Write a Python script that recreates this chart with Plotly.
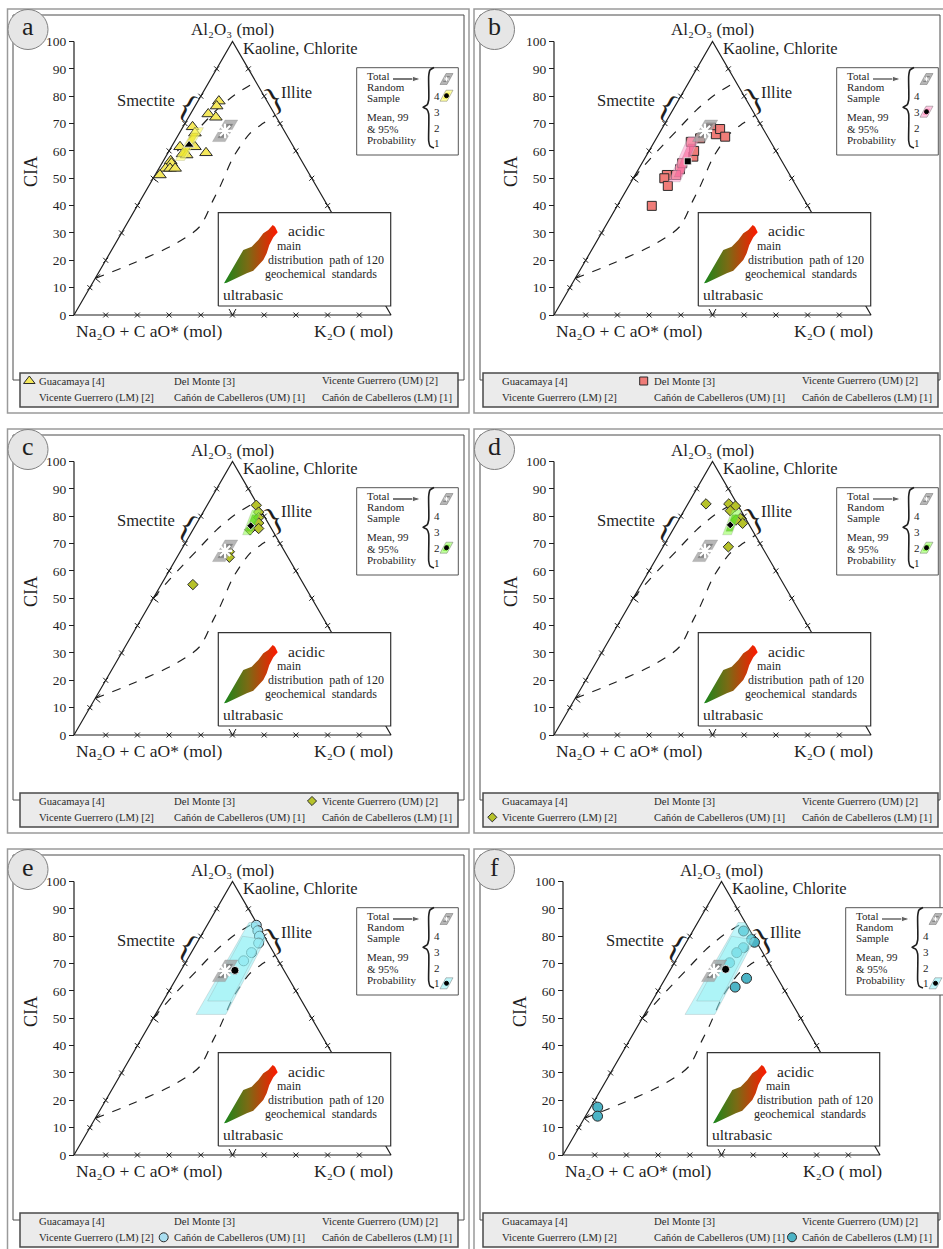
import plotly.graph_objects as go

W, H = 943, 1249
SERIF = "Liberation Serif"
INK = "#1f1f1f"

# ================= DATA  (each sample: K2O mol %, CIA) =================
guacamaya_k2o = [6.6, 6.8, 5.6, 8.6, 3.0, 4.9, 2.7, 7.4, 12.0, 4.8, 6.3, 2.3, 3.0, 2.1, 3.5, 5.1, 1.5]
guacamaya_cia = [78.2, 76.4, 73.5, 72.3, 68.8, 66.5, 61.5, 61.5, 59.3, 58.9, 58.5, 56.4, 55.5, 53.6, 53.6, 53.6, 51.2]
guacamaya_mean = [5.2, 62.2]

delmonte_k2o = [15.3, 18.0, 18.4, 21.4, 13.8, 11.5, 15.0, 13.1, 10.0, 9.8, 12.9, 12.3, 10.9, 14.2, 12.7]
delmonte_cia = [68.5, 66.1, 68.0, 65.2, 64.6, 63.3, 57.9, 53.3, 51.2, 50.0, 51.2, 47.2, 39.9, 60.0, 55.5]
delmonte_mean = [14.1, 56.2]

vg_um_k2o = [15.5, 17.5, 18.5, 19.5, 20.5, 18.0, 15.5, 16.5, 10.0]
vg_um_cia = [84.0, 81.5, 79.5, 77.5, 75.5, 75.0, 67.0, 65.0, 55.0]
vg_um_mean = [17.5, 76.5]

vg_lm_k2o = [5.7, 12.9, 15.4, 14.6, 19.2, 20.8, 18.1, 20.6]
vg_lm_cia = [84.5, 84.5, 83.7, 82.0, 79.2, 77.4, 78.6, 68.8]
vg_lm_mean = [17.2, 76.8]

cc_um_k2o = [15.5, 17.0, 18.5, 19.5, 19.0, 18.0]
cc_um_cia = [84.0, 82.0, 80.0, 77.5, 74.0, 71.0]
cc_um_mean = [17.0, 67.5]

cc_lm_k2o = [16.0, 20.1, 21.5, 19.0, 17.8, 17.4, 25.6, 23.6, 2.2, 3.8]
cc_lm_cia = [81.9, 78.8, 77.8, 75.8, 74.0, 70.3, 64.6, 61.4, 17.5, 14.2]
cc_lm_mean = [17.35, 67.9]

# 99 % / 95 % probability regions (polygon corners, K2O mol %, CIA)
total_p99_k = [12.0, 16.0, 16.0, 12.0];  total_p99_cia = [63.4, 63.4, 71.3, 71.3]
total_p95_k = [13.0, 15.2, 15.2, 13.0];  total_p95_cia = [64.8, 64.8, 69.8, 69.8]
total_mean = [14.0, 67.3]

guacamaya_p99_k = [3.7, 6.6, 6.6, 3.7];  guacamaya_p99_cia = [56.5, 56.5, 68.5, 68.5]
guacamaya_p95_k = [4.0, 6.0, 6.0, 4.0];  guacamaya_p95_cia = [58.0, 58.0, 66.5, 66.5]
delmonte_p99_k = [11.7, 15.4, 13.5, 9.8];  delmonte_p99_cia = [48.7, 48.7, 65.2, 65.2]
delmonte_p95_k = [12.7, 14.9, 13.3, 11.1];  delmonte_p95_cia = [50.5, 50.5, 62.5, 62.5]
vg_p99_k = [16.6, 19.4, 17.9, 15.1];  vg_p99_cia = [73.2, 73.2, 82.3, 82.3]
vg_p95_k = [17.0, 19.0, 18.0, 16.0];  vg_p95_cia = [74.5, 74.5, 80.5, 80.5]
cc_p99_k = [12.8, 22.2, 21.0, 15.0, 12.7];  cc_p99_cia = [51.4, 51.4, 79.0, 85.0, 85.0]
cc_p95_k = [14.0, 21.3, 20.1, 13.2];  cc_p95_cia = [56.3, 56.3, 78.8, 80.0]

# boundary curves of the diagram (K2O mol %, CIA)
upper_curve_k = [0.0, 1.5, 3.0, 5.2, 7.5, 10.5, 14.7]
upper_curve_cia = [50.0, 56.0, 61.0, 68.0, 75.0, 80.5, 85.3]
lower_curve_k = [0.0, 9.2, 18.5, 23.5, 22.9, 22.6, 21.4, 22.3, 24.6, 27.0]
lower_curve_cia = [13.4, 18.9, 25.6, 32.3, 42.0, 46.9, 57.9, 66.4, 70.1, 73.0]

cia_ticks = [0, 10, 20, 30, 40, 50, 60, 70, 80, 90, 100]
edge_ticks = [10, 20, 30, 40, 50, 60, 70, 80, 90]

legend_names = ["Guacamaya [4]", "Del Monte [3]", "Vicente Guerrero (UM) [2]",
                "Vicente Guerrero (LM) [2]", "Cañón de Cabelleros (UM) [1]", "Cañón de Cabelleros (LM) [1]"]
level_labels = ["4", "3", "2", "1"]

panels = [
    dict(letter="a", k=guacamaya_k2o, cia=guacamaya_cia, mean=guacamaya_mean, symbol="triangle-up", size=11,
         color="#f4e85c", p99=(guacamaya_p99_k, guacamaya_p99_cia), p95=(guacamaya_p95_k, guacamaya_p95_cia),
         c99="rgba(255,255,110,0.65)", c95="rgba(236,228,40,0.75)", level=0, slot=0),
    dict(letter="b", k=delmonte_k2o, cia=delmonte_cia, mean=delmonte_mean, symbol="square", size=9,
         color="#ef7c78", p99=(delmonte_p99_k, delmonte_p99_cia), p95=(delmonte_p95_k, delmonte_p95_cia),
         c99="rgba(255,160,205,0.6)", c95="rgba(250,95,150,0.55)", level=1, slot=1),
    dict(letter="c", k=vg_um_k2o, cia=vg_um_cia, mean=vg_um_mean, symbol="diamond", size=8,
         color="#b6c22a", p99=(vg_p99_k, vg_p99_cia), p95=(vg_p95_k, vg_p95_cia),
         c99="rgba(150,255,90,0.6)", c95="rgba(95,215,30,0.75)", level=2, slot=2),
    dict(letter="d", k=vg_lm_k2o, cia=vg_lm_cia, mean=vg_lm_mean, symbol="diamond", size=8,
         color="#b6c22a", p99=(vg_p99_k, vg_p99_cia), p95=(vg_p95_k, vg_p95_cia),
         c99="rgba(150,255,90,0.6)", c95="rgba(95,215,30,0.75)", level=2, slot=3),
    dict(letter="e", k=cc_um_k2o, cia=cc_um_cia, mean=cc_um_mean, symbol="circle", size=10,
         color="#a9def0", p99=(cc_p99_k, cc_p99_cia), p95=(cc_p95_k, cc_p95_cia),
         c99="rgba(140,238,245,0.55)", c95="rgba(150,242,245,0.45)", level=3, slot=4),
    dict(letter="f", k=cc_lm_k2o, cia=cc_lm_cia, mean=cc_lm_mean, symbol="circle", size=10,
         color="#4cb4c6", p99=(cc_p99_k, cc_p99_cia), p95=(cc_p95_k, cc_p95_cia),
         c99="rgba(140,238,245,0.55)", c95="rgba(150,242,245,0.45)", level=3, slot=5),
]

# ================= GEOMETRY (pixel layout of one panel) =================
X0, SX = 74.0, 3.17      # pixel of base-coordinate 0, pixels per unit
Y0, SY = 315.0, 2.735    # pixel of CIA 0, pixels per unit
ROW_OFF = [0, 420, 840]
PLOT_OX = [0, 480, 0, 480, 0, 489]
# per column: frame offset, legend-column offsets, legend box / frame x-extents
COLS = [dict(frame=0, leg=[0, 0, 0], box=(20, 458), inner=(13, 464), outer=(7.5, 469)),
        dict(frame=466.5, leg=[463, 480, 480], box=(483, 938), inner=(480, 940), outer=(474, 948))]


def dx(px):
    return (px - X0) / SX


def dy(py):
    return (Y0 - py) / SY


def tern(k, cia):
    return [a + c / 2.0 for a, c in zip(k, cia)], list(cia)


fig = go.Figure()
shapes, anns = [], []


def paper(px, py):
    return px / W, 1 - py / H


def text(t, px, py, size, xa="center", ya="middle", angle=0, color=INK):
    x, y = paper(px, py)
    anns.append(dict(text=t, x=x, y=y, xref="paper", yref="paper", showarrow=False, xanchor=xa,
                     yanchor=ya, textangle=angle, font=dict(family=SERIF, size=size, color=color)))


def rect(x0, y0, x1, y1, line, width, fill="rgba(0,0,0,0)", layer="below"):
    a, b = paper(x0, y0)
    c, d = paper(x1, y1)
    shapes.append(dict(type="rect", xref="paper", yref="paper", x0=a, y0=b, x1=c, y1=d,
                       line=dict(color=line, width=width), fillcolor=fill, layer=layer))


for i, p in enumerate(panels):
    col = COLS[i % 2]
    ox, oy = PLOT_OX[i], ROW_OFF[i // 2]
    fo = col["frame"]
    n = "" if i == 0 else str(i + 1)
    xa, ya = "x" + n, "y" + n
    left_px, right_px = fo + 15, min(W, 466 + ox)
    top_px, bot_px = oy + 16, min(H, oy + 410)
    fig.layout["xaxis" + n] = dict(domain=[left_px / W, right_px / W], range=[dx(left_px - ox), dx(right_px - ox)],
                                   visible=False, anchor=ya, fixedrange=True)
    fig.layout["yaxis" + n] = dict(domain=[1 - bot_px / H, 1 - top_px / H], range=[dy(bot_px - oy), dy(top_px - oy)],
                                   anchor="free", position=(X0 + ox) / W, tickvals=cia_ticks, ticks="outside",
                                   ticklen=5, tickwidth=1, tickcolor=INK, showline=False, showgrid=False,
                                   zeroline=False, tickfont=dict(family=SERIF, size=13.5, color=INK),
                                   fixedrange=True, automargin=False)

    def tr(**kw):
        kw.setdefault("showlegend", False)
        kw.setdefault("hoverinfo", "skip")
        fig.add_trace(go.Scatter(xaxis=xa, yaxis=ya, **kw))

    # frames
    rect(col["outer"][0], 9 + oy, col["outer"][1], 413 + oy, "#9a9a9a", 1.5)
    rect(col["inner"][0], 15 + oy, col["inner"][1], 380 + oy, "#4a4a4a", 1)
    rect(col["box"][0], 373 + oy, col["box"][1], 407 + oy, "#4a4a4a", 1.5, fill="#ebebeb")
    cx, cy = paper(28 + fo, 29.5 + oy)
    shapes.append(dict(type="circle", xref="paper", yref="paper", x0=cx - 20 / W, x1=cx + 20 / W,
                       y0=cy - 20 / H, y1=cy + 20 / H, line=dict(color="#808080", width=1),
                       fillcolor="#e6e6e6", layer="above"))
    text(p["letter"], 28 + fo, 27 + oy, 26)

    # CIA axis line and triangle
    tr(x=[0, 0], y=[0, 100], mode="lines", line=dict(color=INK, width=1.2))
    tr(x=[0, 50, 100, 0], y=[0, 100, 0, 0], mode="lines", line=dict(color=INK, width=1.2))
    ex = [c / 2 for c in edge_ticks] + [100 - c / 2 for c in edge_ticks] + edge_ticks
    ey = list(edge_ticks) + list(edge_ticks) + [0] * len(edge_ticks)
    tr(x=ex, y=ey, mode="markers", marker=dict(symbol="x-thin", size=5, line=dict(color=INK, width=1)),
       cliponaxis=False)

    # boundary curves, with their small arrow heads on the left edge and the apex mark on the base
    for ck, cc in ((upper_curve_k, upper_curve_cia), (lower_curve_k, lower_curve_cia)):
        X, Y = tern(ck, cc)
        tr(x=X, y=Y, mode="lines", line=dict(color=INK, width=1.2, dash="dash", shape="spline", smoothing=0.8))
    hx, hy = [], []
    for c0 in (upper_curve_cia[0], lower_curve_cia[0]):
        t0 = c0 / 2.0
        hx += [t0 + 1.6, t0, t0 + 1.6, None]
        hy += [c0 + 1.5, c0, c0 - 1.5, None]
    hx += [48.9, 50, 51.1]
    hy += [2.2, 0, 2.2]
    tr(x=hx, y=hy, mode="lines", line=dict(color=INK, width=1))

    # inset: distribution path of 120 geochemical standards
    bx0, bx1, by0, by1 = dx(218.3), dx(390.7), dy(306), dy(212.7)
    tr(x=[bx0, bx1, bx1, bx0, bx0], y=[by0, by0, by1, by1, by0], mode="lines", fill="toself",
       fillcolor="white", line=dict(color="#333333", width=1.2))
    leaf = [(224, 283.3), (230, 273.3), (235, 265), (239.3, 256.7), (243.3, 250), (251.7, 246.7),
            (258.3, 240), (263.3, 233.3), (268.3, 230), (272.7, 225), (275, 226.7), (277.7, 232.3),
            (273.3, 237.3), (269.3, 245), (266.7, 253.3), (263.3, 260), (258.3, 265), (253.3, 270.7),
            (246.7, 273.3), (240, 276.7), (233.3, 280), (226.7, 282.7), (224, 283.3)]
    tr(x=[dx(a) for a, b in leaf], y=[dy(b) for a, b in leaf], mode="lines", fill="toself",
       line=dict(width=0, color="rgba(0,0,0,0)"),
       fillgradient=dict(type="horizontal", colorscale=[[0, "#18861c"], [0.45, "#7c6a14"], [1, "#ff1800"]]))
    text("acidic", 286 + ox, 231 + oy, 15.5, xa="left")
    text("main", 275 + ox, 246 + oy, 12, xa="left")
    text("distribution  path of 120", 265.5 + ox, 259.5 + oy, 12, xa="left")
    text("geochemical  standards", 263 + ox, 273.5 + oy, 12, xa="left")
    text("ultrabasic", 221 + ox, 294.5 + oy, 15.5, xa="left")

    # right key box
    kx0, kx1, ky0, ky1 = dx(356.7), dx(458.3), dy(155), dy(67.7)
    tr(x=[kx0, kx1, kx1, kx0, kx0], y=[ky0, ky0, ky1, ky1, ky0], mode="lines", fill="toself",
       fillcolor="white", line=dict(color="#555555", width=1))
    brace = [(434, 67.5), (430, 70), (428.7, 76), (428.7, 100), (427, 105), (423, 107.3), (427, 109.5),
             (428.7, 114), (428.7, 141), (430, 146), (434, 148)]
    tr(x=[dx(a) for a, b in brace], y=[dy(b) for a, b in brace], mode="lines",
       line=dict(color=INK, width=1.6, shape="spline", smoothing=0.6))
    for t, yy in zip(["Total", "Random", "Sample", "Mean, 99", "& 95%", "Probability"],
                     [76, 87.3, 98.3, 117.3, 129, 140]):
        text(t, 364.5 + ox, yy + oy, 11, xa="left")
    for t, yy in zip(level_labels, [95.7, 111.7, 127.7, 143.3]):
        text(t, 431.5 + ox, yy + oy, 11, xa="left")
    tr(x=[dx(393), dx(421)], y=[dy(79), dy(79)], mode="lines+markers", line=dict(color=INK, width=1.2),
       marker=dict(symbol="arrow", size=[0, 9], angleref="previous", color=INK))

    def icon(cxp, cyp, fill_o, fill_i, mcol, msym):
        o = [(-6.5, 5.5), (0.5, 5.5), (6.5, -5.5), (-0.5, -5.5), (-6.5, 5.5)]
        ii = [(-3.5, 3), (0.5, 3), (3.5, -3), (-0.5, -3), (-3.5, 3)]
        tr(x=[dx(cxp + a) for a, b in o], y=[dy(cyp + b) for a, b in o], mode="lines", fill="toself",
           fillcolor=fill_o, line=dict(color="rgba(90,90,90,0.5)", width=0.8))
        tr(x=[dx(cxp + a) for a, b in ii], y=[dy(cyp + b) for a, b in ii], mode="lines", fill="toself",
           fillcolor=fill_i, line=dict(width=0, color="rgba(0,0,0,0)"))
        tr(x=[dx(cxp)], y=[dy(cyp)], mode="markers", marker=dict(symbol=msym, size=4, color=mcol,
                                                                    line=dict(width=1, color=mcol)))

    icon(446.5, 79, "#b5b5b5", "#858585", "white", "asterisk-open")
    icon(446.5, [95.7, 111.7, 127.7, 143.3][p["level"]], p["c99"], p["c95"], "black", "circle")

    # labels around the triangle
    text("Al₂O₃ (mol)", 232.5 + ox, 30 + oy, 17)
    text("Kaoline, Chlorite", 241 + ox, 48.5 + oy, 16.5, xa="left")
    text("Na₂O + C aO* (mol)", 74 + ox, 331 + oy, 17.5, xa="left")
    text("K₂O ( mol)", 311.5 + ox, 331 + oy, 17.5, xa="left")
    text("CIA", 31 + ox, 172 + oy, 18, angle=-90)
    text("Smectite", 146 + ox, 100 + oy, 16.5)
    text("{", 188 + ox, 106 + oy, 33, angle=28)
    text("Illite", 296 + ox, 92 + oy, 16.5)
    text("}", 273.5 + ox, 99 + oy, 33, angle=-28)

    # sample points, then translucent probability regions over them
    X, Y = tern(p["k"], p["cia"])
    tr(x=X, y=Y, mode="markers", cliponaxis=False,
       marker=dict(symbol=p["symbol"], size=p["size"], color=p["color"], line=dict(color="#2a2a2a", width=1)))
    for (kk, cc), colr in ((p["p99"], p["c99"]), (p["p95"], p["c95"])):
        X, Y = tern(kk + kk[:1], cc + cc[:1])
        tr(x=X, y=Y, mode="lines", fill="toself", fillcolor=colr, line=dict(width=0.6, color="rgba(120,120,120,0.35)"))
    for kk, cc, colr in ((total_p99_k, total_p99_cia, "rgba(165,165,165,0.8)"),
                         (total_p95_k, total_p95_cia, "rgba(120,120,120,0.8)")):
        X, Y = tern(kk + kk[:1], cc + cc[:1])
        tr(x=X, y=Y, mode="lines", fill="toself", fillcolor=colr, line=dict(width=0.6, color="rgba(120,120,120,0.4)"))
    X, Y = tern([total_mean[0]], [total_mean[1]])
    tr(x=X, y=Y, mode="markers", marker=dict(symbol="asterisk-open", size=12, color="white",
                                             line=dict(color="white", width=2.2)))
    X, Y = tern([p["mean"][0]], [p["mean"][1]])
    tr(x=X, y=Y, mode="markers", marker=dict(symbol=p["symbol"], size=p["size"] - 2, color="black",
                                             line=dict(color="white", width=0.8)))

    # bottom key
    cols = [37.3, 171.7, 320.0]
    rows = [381.0, 397.3]
    for j, name in enumerate(legend_names):
        text(name, cols[j % 3] + col["leg"][j % 3], rows[j // 3] + oy, 10.7, xa="left", color="#2a2a2a")
    s = p["slot"]
    lx = cols[s % 3] + col["leg"][s % 3] - ox - 8
    ly = rows[s // 3]
    tr(x=[dx(lx)], y=[dy(ly)], mode="markers", cliponaxis=False,
       marker=dict(symbol=p["symbol"], size=p["size"] - 1, color=p["color"], line=dict(color="#2a2a2a", width=1)))

fig.update_layout(width=W, height=H, autosize=False, margin=dict(l=0, r=0, t=0, b=0),
                  paper_bgcolor="white", plot_bgcolor="rgba(0,0,0,0)", shapes=shapes, annotations=anns,
                  showlegend=False)
fig.write_html("out.html", config={"displayModeBar": False, "staticPlot": True},
               post_script="document.body.style.margin='0';document.body.style.overflow='hidden';")
